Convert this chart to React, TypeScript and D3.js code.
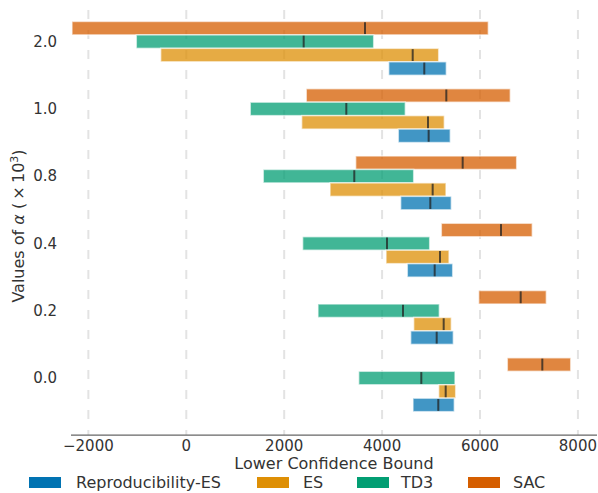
import React from "react";
import * as d3 from "d3";

const categories = ["0.0", "0.2", "0.4", "0.8", "1.0", "2.0"];
const seriesNames = ["SAC", "TD3", "ES", "Reproducibility-ES"];
const legendOrder = ["Reproducibility-ES", "ES", "TD3", "SAC"];
const baseColors: Record<string, string> = {
  "Reproducibility-ES": "#0173b2",
  ES: "#de8f05",
  TD3: "#029e73",
  SAC: "#d55e00",
};

// [low, median, high] per category (0.0 .. 2.0)
const sacValues = [
  [6558, 7273, 7853],
  [5973, 6831, 7355],
  [5210, 6429, 7068],
  [3460, 5646, 6749],
  [2451, 5312, 6619],
  [-2335, 3651, 6170],
];
const td3Values = [
  [3522, 4801, 5489],
  [2690, 4427, 5169],
  [2377, 4100, 4972],
  [1573, 3432, 4645],
  [1307, 3269, 4474],
  [-1021, 2398, 3828],
];
const esValues = [
  [5156, 5299, 5503],
  [4645, 5258, 5414],
  [4080, 5183, 5367],
  [2936, 5033, 5305],
  [2357, 4938, 5271],
  [-523, 4625, 5156],
];
const reproValues = [
  [4631, 5148, 5475],
  [4584, 5115, 5455],
  [4515, 5074, 5442],
  [4379, 4985, 5414],
  [4331, 4951, 5393],
  [4135, 4862, 5312],
];
const xTicks = [-2000, 0, 2000, 4000, 6000, 8000];

const seriesData: Record<string, number[][]> = {
  SAC: sacValues,
  TD3: td3Values,
  ES: esValues,
  "Reproducibility-ES": reproValues,
};
const offsets: Record<string, number> = {
  SAC: 0.2,
  TD3: 0,
  ES: -0.2,
  "Reproducibility-ES": -0.4,
};

const W = 598;
const H = 493;
const FONT = "DejaVu Sans, sans-serif";
const TEXT = "#333";

export default function App() {
  const x = d3.scaleLinear().domain([-2355, 8390]).range([71, 597]);
  const y = d3.scaleLinear().domain([-0.847, 5.47]).range([435, 10]);
  const barH = 0.2;
  const fmt = (v: number) => (v < 0 ? "\u2212" + Math.abs(v) : String(v));

  const legendX: Record<string, [number, number]> = {
    "Reproducibility-ES": [29, 76],
    ES: [257, 303],
    TD3: [357, 401],
    SAC: [468, 513],
  };

  return (
    <svg
      width={W}
      height={H}
      style={{ position: "absolute", left: 0, top: 0 }}
      fontFamily={FONT}
    >
      <rect width={W} height={H} fill="white" />
      {xTicks.map((t) => (
        <line
          key={"g" + t}
          x1={x(t)}
          x2={x(t)}
          y1={y(5.47)}
          y2={y(-0.847)}
          stroke="#e3e3e3"
          strokeWidth={2}
          strokeDasharray="9,11"
        />
      ))}
      {seriesNames.map((s) =>
        seriesData[s].map((d, i) => {
          const yc = i + offsets[s];
          const top = y(yc + barH / 2);
          const bot = y(yc - barH / 2);
          return (
            <g key={s + i}>
              <rect
                x={x(d[0])}
                y={top}
                width={x(d[2]) - x(d[0])}
                height={bot - top}
                fill={baseColors[s]}
                fillOpacity={0.75}
                stroke="white"
                strokeOpacity={0.6}
                strokeWidth={1.5}
              />
              <line
                x1={x(d[1])}
                x2={x(d[1])}
                y1={top + 0.8}
                y2={bot - 0.8}
                stroke="#222"
                strokeOpacity={0.75}
                strokeWidth={2}
              />
            </g>
          );
        })
      )}
      <line x1={71} x2={597} y1={435} y2={435} stroke="#666" strokeWidth={1.25} />
      {xTicks.map((t) => (
        <text
          key={"t" + t}
          x={x(t)}
          y={451}
          textAnchor="middle"
          fontSize={15}
          fill={TEXT}
        >
          {fmt(t)}
        </text>
      ))}
      {categories.map((c, i) => (
        <text
          key={"c" + c}
          x={57}
          y={y(i)}
          dy="0.35em"
          textAnchor="end"
          fontSize={15}
          fill={TEXT}
        >
          {c}
        </text>
      ))}
      <text x={334} y={469} textAnchor="middle" fontSize={16} fill={TEXT}>
        Lower Confidence Bound
      </text>
      <text
        transform="translate(24,226) rotate(-90)"
        textAnchor="middle"
        fontSize={16}
        fill={TEXT}
      >
        Values of <tspan fontStyle="italic">α</tspan> ({"\u2009"}×{"\u2009"}10
        <tspan dy={-6} fontSize={11}>
          3
        </tspan>
        <tspan dy={6}>)</tspan>
      </text>
      {legendOrder.map((s) => (
        <g key={"l" + s}>
          <rect
            x={legendX[s][0]}
            y={477}
            width={32}
            height={11}
            fill={baseColors[s]}
          />
          <text x={legendX[s][1]} y={488} fontSize={16} fill={TEXT}>
            {s}
          </text>
        </g>
      ))}
    </svg>
  );
}
